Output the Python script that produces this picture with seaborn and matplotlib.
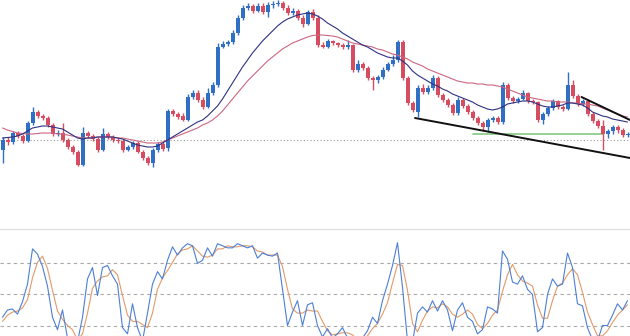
import numpy as np
import pandas as pd
import matplotlib
matplotlib.use("Agg")
import matplotlib.pyplot as plt
import seaborn as sns

# ---- price data (arbitrary price units) ----
open_ = [20, 30, 28, 37, 34, 29, 47, 58, 54, 52,
         45, 36, 37, 30, 23, 18, 5, 37, 34, 31,
         20, 36, 33, 30, 29, 20, 23, 27, 18, 12,
         7, 20, 26, 22, 59, 56, 54, 50, 73, 77,
         70, 63, 77, 85, 123, 126, 128, 137, 152, 162,
         164, 159, 164, 158, 165, 166, 167, 162, 157, 159,
         152, 146, 158, 152, 125, 123, 129, 127, 125, 123,
         125, 100, 106, 102, 92, 90, 93, 100, 106, 110,
         128, 92, 67, 58, 82, 78, 82, 92, 75, 70,
         65, 57, 70, 64, 58, 52, 47, 43, 50, 52,
         48, 85, 72, 69, 71, 77, 69, 68, 50, 56,
         62, 69, 63, 61, 85, 74, 66, 69, 56, 49,
         44, 36, 39, 43, 40, 35]
close = [30, 28, 37, 34, 29, 47, 58, 54, 52, 45,
         36, 37, 30, 23, 18, 5, 37, 34, 31, 20,
         36, 33, 30, 29, 20, 23, 27, 18, 12, 7,
         20, 26, 21, 59, 56, 53, 50, 73, 77, 70,
         63, 77, 85, 123, 126, 128, 137, 152, 162, 164,
         159, 164, 158, 165, 166, 167, 162, 157, 159, 152,
         146, 158, 152, 125, 123, 129, 127, 125, 123, 125,
         100, 106, 102, 92, 90, 93, 100, 106, 110, 128,
         92, 67, 60, 82, 78, 82, 92, 75, 70, 65,
         57, 70, 64, 58, 52, 47, 43, 50, 52, 48,
         85, 72, 69, 71, 77, 69, 68, 50, 56, 62,
         69, 63, 61, 85, 74, 66, 69, 56, 49, 44,
         36, 39, 43, 40, 35, 36]
high = [33, 33, 39, 39, 36, 49, 63, 60, 56, 54,
        47, 40, 47, 32, 25, 20, 43, 39, 36, 33,
        42, 38, 35, 32, 31, 25, 29, 29, 20, 14,
        22, 28, 28, 61, 61, 58, 57, 76, 80, 80,
        73, 82, 88, 127, 129, 130, 140, 155, 165, 167,
        166, 167, 167, 168, 169, 170, 169, 165, 162, 161,
        155, 160, 161, 155, 128, 131, 130, 128, 127, 130,
        126, 110, 108, 104, 94, 95, 103, 108, 115, 130,
        130, 94, 69, 85, 86, 85, 95, 94, 77, 72,
        67, 73, 72, 66, 60, 54, 49, 52, 54, 54,
        88, 87, 74, 73, 80, 78, 71, 69, 58, 64,
        71, 70, 65, 98, 90, 76, 71, 71, 58, 51,
        50, 41, 45, 45, 42, 38]
low = [7, 25, 26, 32, 27, 28, 45, 52, 50, 43,
       34, 34, 28, 21, 16, 4, 4, 32, 29, 18,
       19, 31, 28, 27, 18, 19, 21, 17, 10, 5,
       3, 18, 19, 19, 54, 51, 49, 49, 71, 68,
       61, 62, 75, 83, 122, 124, 126, 135, 150, 160,
       157, 158, 156, 153, 162, 164, 160, 155, 155, 150,
       143, 145, 150, 123, 122, 122, 125, 123, 121, 121,
       98, 98, 100, 90, 80, 87, 91, 99, 104, 108,
       90, 65, 58, 53, 76, 76, 80, 73, 68, 63,
       55, 55, 62, 56, 50, 45, 39, 38, 48, 46,
       46, 70, 67, 67, 70, 67, 66, 48, 46, 54,
       60, 61, 59, 60, 72, 64, 64, 54, 47, 42,
       20, 32, 36, 37, 33, 33]

# moving averages
ma_fast = [32, 32.5, 33, 34, 36, 39, 42, 43, 44, 44,
           43, 42, 41, 38, 35, 32, 31, 32, 32, 33,
           33, 33, 33, 32, 31, 29, 27, 25, 24, 23,
           23, 24, 27, 30, 33, 36, 39, 42, 45, 48,
           50, 54, 59, 64, 71, 79, 87, 95, 103, 110,
           117, 123, 129, 134, 139, 144, 148, 151, 153, 155,
           156, 157, 156, 154, 151, 147, 144, 141, 137, 134,
           131, 128, 125, 123, 120, 117, 115, 113, 112, 112,
           109, 105, 99, 95, 92, 89, 86, 84, 81, 79,
           76, 74, 72, 70, 68, 65, 63, 61, 60, 61,
           63, 66, 67, 68, 69, 69, 68, 66, 64, 63,
           63, 64, 65, 67, 67, 66, 65, 62, 58, 56,
           54, 53, 51, 50, 49, 48]
ma_slow = [42, 40, 38.5, 37, 36.5, 36, 36, 36.5, 37, 37,
           37, 36, 36, 35, 34, 33, 32, 32, 32, 33,
           33, 33, 33, 32, 32, 31, 30, 29, 28, 27,
           27, 27, 28, 30, 32, 34, 36, 38, 40, 42,
           45, 47, 50, 54, 59, 65, 71, 77, 83, 89,
           94, 99, 104, 109, 113, 117, 121, 124, 127, 129,
           131, 133, 134.5, 135, 135, 134.5, 134, 133, 131, 129,
           127, 126, 125, 124, 123, 121, 120, 118, 116, 115,
           113, 111, 108, 106, 104, 101, 99, 97, 95, 93,
           91, 89, 88, 87, 87, 86, 86, 85, 85, 84,
           83, 81, 79, 77, 75, 73, 72, 71, 70, 69,
           69, 68, 68, 68, 67, 67, 66, 66, 65, 64,
           62, 60, 58, 56, 54, 53]

# stochastic oscillator
stoch_k = [28, 35, 36, 31, 43, 60, 94, 89, 77, 58,
           28, 16, 35, 8, 5, 4, 28, 65, 76, 49,
           76, 78, 68, 60, 18, 12, 41, 18, 5, 32,
           60, 72, 65, 83, 96, 88, 95, 99, 97, 80,
           83, 95, 87, 99, 97, 95, 95, 99, 97, 95,
           97, 85, 90, 88, 87, 90, 55, 20, 33, 44,
           20, 40, 42, 20, 9, 17, 8, 12, 18, 8,
           7, 6, 8, 15, 28, 22, 44, 60, 78, 100,
           57, 5, 4, 32, 38, 33, 44, 34, 44, 35,
           15, 35, 42, 28, 24, 12, 16, 38, 36, 32,
           92, 84, 62, 60, 68, 55, 50, 14, 18, 50,
           65, 58, 60, 90, 76, 41, 39, 18, 6, 5,
           20, 20, 30, 41, 35, 44]
stoch_d = [24, 30, 33, 34, 37, 45, 66, 81, 87, 75,
           54, 34, 26, 20, 16, 6, 12, 32, 56, 63,
           67, 68, 74, 69, 49, 30, 24, 24, 21, 18,
           32, 55, 66, 73, 81, 89, 93, 94, 97, 92,
           87, 86, 88, 94, 94, 97, 96, 96, 97, 97,
           96, 92, 91, 88, 88, 88, 77, 55, 36, 32,
           32, 35, 34, 34, 24, 15, 11, 12, 13, 13,
           11, 7, 7, 10, 17, 22, 31, 42, 61, 79,
           78, 54, 22, 14, 25, 34, 38, 37, 41, 38,
           31, 28, 31, 35, 31, 21, 17, 22, 30, 35,
           53, 69, 79, 69, 63, 61, 58, 40, 27, 27,
           44, 58, 61, 69, 75, 69, 52, 33, 21, 10,
           10, 15, 23, 30, 35, 40]
stoch_levels = [20, 50, 80]

# horizontal reference levels and drawn trend lines (bar index, price)
dotted_level = 30
green_x = [94, 120]
green_y = [36, 36]
lower_trend_x = [82.5, 125.5]
lower_trend_y = [52, 12]
upper_trend_x = [115.8, 125.5]
upper_trend_y = [73, 50]

BLUE = "#2f6fc4"
RED = "#d64c60"
NAVY = "#2e3183"
PINK = "#cc6680"
K_COL = "#4c7fd6"
D_COL = "#e29a68"

sns.set_theme(style="white")

fig = plt.figure(figsize=(6.3, 3.36), dpi=100)
ax = fig.add_axes([0, 166 / 336, 1, 170 / 336])
ax2 = fig.add_axes([0, 0, 1, 107 / 336])

o = np.array(open_, float)
c = np.array(close, float)
h = np.array(high, float)
l = np.array(low, float)
idx = np.arange(len(c))
cols = np.where(c >= o, BLUE, RED)

ax.vlines(idx, l, h, colors=cols, lw=1.0, zorder=2)
body_h = np.maximum(np.abs(c - o), 1.0)
ax.bar(idx, body_h, bottom=np.minimum(o, c), width=0.8, color=cols,
       linewidth=0, zorder=3)

df = pd.DataFrame({"bar": idx, "fast": ma_fast, "slow": ma_slow,
                   "k": stoch_k, "d": stoch_d})
sns.lineplot(data=df, x="bar", y="slow", ax=ax, color=PINK, lw=0.8, zorder=4)
sns.lineplot(data=df, x="bar", y="fast", ax=ax, color=NAVY, lw=0.8, zorder=4)

ax.axhline(dotted_level, color="#9a9a9a", lw=0.8, ls=(0, (1, 2)), zorder=1)
ax.plot(green_x, green_y, color="#8fcb8a", lw=1.3, zorder=1)
ax.plot(lower_trend_x, lower_trend_y, color="#111111", lw=1.4, zorder=5)
ax.plot(upper_trend_x, upper_trend_y, color="#111111", lw=1.4, zorder=5)

ax.set_xlim(-0.5, 125.5)
ax.set_ylim(0, 170)
ax.axis("off")

for lv in stoch_levels:
    ax2.axhline(lv, color="#a8a8a8", lw=0.8, ls=(0, (3, 3)), zorder=1)
sns.lineplot(data=df, x="bar", y="d", ax=ax2, color=D_COL, lw=0.8, zorder=3)
sns.lineplot(data=df, x="bar", y="k", ax=ax2, color=K_COL, lw=0.8, zorder=4)
ax2.set_xlim(-0.5, 125.5)
ax2.set_ylim(9.9, 113.2)
ax2.set_xticks([])
ax2.set_yticks([])
ax2.set_xlabel("")
ax2.set_ylabel("")
for s in ["left", "right", "bottom"]:
    ax2.spines[s].set_visible(False)
ax2.spines["top"].set_color("#dddddd")
ax2.spines["top"].set_linewidth(0.8)

fig.savefig("out.png", dpi=100)
